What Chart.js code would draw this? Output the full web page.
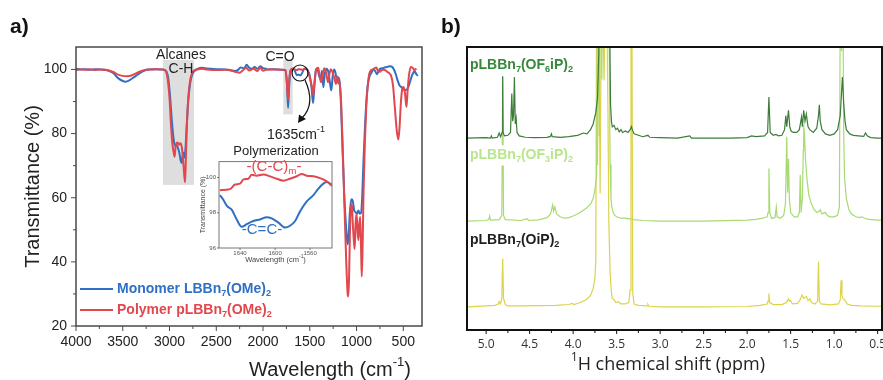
<!DOCTYPE html>
<html>
<head>
<meta charset="UTF-8">
<script src="https://cdn.jsdelivr.net/npm/chart.js"></script>
<style>
  body { margin: 0; background: #fff; width: 883px; height: 380px; position: relative; overflow: hidden; }
  canvas { position: absolute; }
  #ftir { left: 0; top: 0; }
  #inset { left: 195px; top: 155px; }
  #nmr { left: 440px; top: 0; }
</style>
</head>
<body>
<canvas id="ftir" width="440" height="380"></canvas>
<canvas id="nmr" width="460" height="380"></canvas>
<canvas id="inset" width="142" height="112"></canvas>
<script>
// ---------- panel a: FTIR ----------
const wnTicks = [4000, 3500, 3000, 2500, 2000, 1500, 1000, 500];
const wnMinorTicks = [3750, 3250, 2750, 2250, 1750, 1250, 750];
const transTicks = [20, 40, 60, 80, 100];
const transMinorTicks = [30, 50, 70, 90];
// [from cm-1, to cm-1, T low, T high]
const shadedBands = [[3070, 2738, 64, 103], [1783, 1683, 86, 103]];

const monomerIR = [[4000,100.2],[3950,100.0],[3900,100.1],[3850,99.9],[3800,100.1],[3750,100.0],[3700,99.9],[3650,99.6],[3600,98.8],[3550,97.3],[3500,96.4],[3470,96.2],[3430,96.6],[3380,97.6],[3330,98.6],[3280,99.5],[3230,100.0],[3150,100.1],[3080,100.0],[3040,99.6],[3015,97.5],[2995,92],[2975,84],[2955,78],[2940,76.2],[2925,76.5],[2910,75.5],[2895,74],[2880,71.5],[2870,70.8],[2860,73],[2850,74],[2840,72.5],[2830,75],[2815,83],[2800,90],[2780,95.5],[2760,98.2],[2730,99.6],[2700,100.2],[2650,100.5],[2600,100.3],[2500,100.1],[2400,100.0],[2350,99.8],[2300,99.5],[2270,99.8],[2240,100.6],[2200,100.4],[2175,101.5],[2150,100.6],[2120,100.2],[2090,100.8],[2060,100.2],[2030,101.0],[2000,100.4],[1970,100.2],[1950,100.0],[1900,100.1],[1850,100.0],[1800,99.9],[1760,99.8],[1745,96],[1732,88],[1722,94],[1708,99.5],[1680,100.2],[1660,99.6],[1640,98.2],[1620,98.4],[1600,98.1],[1580,99],[1560,100.2],[1540,100.3],[1520,99.6],[1500,98],[1480,94],[1465,89.5],[1450,95],[1435,99.8],[1420,100.3],[1400,98],[1385,97],[1370,99.5],[1355,94.5],[1340,98.5],[1320,100.2],[1300,99],[1285,96],[1270,93.5],[1255,98],[1240,100],[1225,99],[1210,96.5],[1195,97.5],[1180,96],[1165,88],[1150,75],[1130,60],[1110,50],[1095,45.5],[1085,48],[1070,56],[1055,59.5],[1040,59],[1025,56],[1010,55.5],[995,55],[980,56],[965,55],[950,55.5],[940,60],[925,72],[910,82],[895,90],[880,95],[860,98],[840,99],[820,100],[800,99.5],[780,98.5],[760,99.8],[740,100.3],[720,100.4],[700,100.6],[680,100.7],[660,100.9],[640,101.0],[620,100.8],[600,100],[580,98.5],[560,96.5],[540,95],[520,94.5],[500,93.8],[480,93.6],[460,93.8],[440,95],[420,97],[400,98.6],[380,99.4],[360,98.5],[345,98]];

const polymerIR = [[4000,99.8],[3950,100.0],[3900,99.9],[3850,100.1],[3800,99.8],[3750,100.0],[3700,99.9],[3650,99.7],[3600,99.2],[3550,98.4],[3500,98.0],[3450,97.9],[3400,98.2],[3350,98.9],[3300,99.5],[3250,99.9],[3150,100.1],[3080,100.0],[3060,99.9],[3040,99.5],[3020,97],[3000,91],[2985,83],[2970,77],[2955,74],[2945,72.8],[2935,76],[2925,77],[2913,77.2],[2900,76.5],[2885,77],[2870,76],[2855,72],[2845,68],[2834,64.8],[2825,72],[2815,82],[2800,91],[2780,96.5],[2760,98.8],[2730,99.8],[2700,100],[2650,100.2],[2600,100],[2500,99.8],[2400,99.9],[2300,99.3],[2250,99],[2220,99.6],[2180,100.5],[2150,99.7],[2100,100.2],[2060,99.5],[2030,100.6],[2000,99.6],[1960,100],[1900,100],[1800,99.9],[1760,99.7],[1745,96],[1732,90.5],[1722,96],[1705,99.8],[1680,100.3],[1660,100],[1640,99.8],[1620,100.1],[1600,100],[1580,99.9],[1560,100.1],[1540,100.2],[1520,99.5],[1500,97.5],[1480,95],[1462,92],[1450,96],[1430,100],[1410,100.5],[1395,98],[1380,96],[1365,98],[1345,100.4],[1325,99],[1305,96],[1290,98.5],[1275,100.1],[1255,99],[1235,97],[1220,95.5],[1205,97.8],[1194,95.6],[1180,96],[1165,90],[1150,78],[1130,58],[1110,40],[1095,30],[1088,29.2],[1080,35],[1070,50],[1060,58],[1050,57.5],[1040,52],[1030,47],[1020,44],[1010,52],[1000,55],[990,50],[980,46.8],[970,52],[960,54],[950,42],[944,35.4],[935,45],[925,62],[910,78],[895,89],[880,95],[865,98.5],[850,99.6],[830,100],[810,100.3],[790,100.6],[770,99.5],[750,99.3],[730,99.8],[710,99.9],[690,99.7],[670,99.2],[650,98.8],[630,98],[610,95],[590,88],[570,81],[553,78.1],[540,82],[525,90],[510,94],[495,94.5],[480,92],[466,88.3],[455,93],[440,98],[420,100.8],[400,100.5],[380,99.8],[360,100.3]];

// inset (1635 cm-1 region)
const insetXTicks = [1640, 1600, 1560];
const insetYTicks = [96, 98, 100];
const insetMonomer = [[1663,99.0],[1659,98.73],[1654.5,98.36],[1649.5,98.18],[1643.8,97.62],[1638.1,97.2],[1632.4,97.35],[1624.8,97.53],[1617.1,97.62],[1609.5,97.75],[1603.8,97.68],[1596.2,97.44],[1588.6,97.16],[1582.9,97.26],[1577.1,97.53],[1571.4,98.08],[1563.8,98.64],[1556.2,99.0],[1550.5,99.37],[1544.8,99.65],[1541,99.74],[1535.2,99.6]];
const insetPolymer = [[1663,99.28],[1651.4,99.34],[1645.7,99.6],[1640,99.65],[1636,99.89],[1630.5,99.93],[1626.7,100.15],[1621,100.1],[1613.3,100.17],[1605.7,100.06],[1598,99.93],[1590.5,99.82],[1582.9,99.93],[1575.2,100.07],[1569.5,100.2],[1563.8,100.1],[1556,100.07],[1548.6,99.96],[1541,99.78],[1535.2,99.52]];

// ---------- panel b: 1H NMR ----------
const ppmTicks = [5.0, 4.5, 4.0, 3.5, 3.0, 2.5, 2.0, 1.5, 1.0, 0.5];
const ppmMinorTicks = [4.75, 4.25, 3.75, 3.25, 2.75, 2.25, 1.75, 1.25, 0.75];
const nmrNames = ['pLBBn_{7}(OF_{6}iP)_{2}', 'pLBBn_{7}(OF_{3}iP)_{2}', 'pLBBn_{7}(OiP)_{2}'];
const stackOffsets = [67.8, 38.5, 8.2];

const nmrOF6 = [[5.22,0],[5.0,0.2],[4.95,0],[4.94,0.8],[4.93,0],[4.87,0.3],[4.85,1.8],[4.835,0.5],[4.815,2],[4.81,21.9],[4.805,2],[4.79,0.8],[4.75,1],[4.72,2],[4.705,15.8],[4.695,6],[4.685,8],[4.675,21.6],[4.665,5],[4.655,7],[4.645,2],[4.62,0.8],[4.55,0.3],[4.45,0.2],[4.30,0.3],[4.26,0.6],[4.25,1.5],[4.24,0.5],[4.15,0.3],[4.05,0.5],[3.95,1],[3.88,1.8],[3.84,1.5],[3.80,3],[3.77,5],[3.74,9],[3.72,14],[3.705,30],[3.69,110],[3.68,60],[3.665,110],[3.655,80],[3.64,110],[3.62,110],[3.605,90],[3.595,110],[3.58,40],[3.57,12],[3.56,6],[3.55,4],[3.53,4.5],[3.51,3],[3.49,3.5],[3.47,2.2],[3.45,3],[3.43,2],[3.40,2.5],[3.37,2],[3.345,3],[3.33,4.1],[3.32,3],[3.30,1.5],[3.25,1],[3.20,0.5],[3.14,1],[3.12,0.3],[3.0,0.2],[2.80,0],[2.66,0.8],[2.64,0],[2.4,0],[2.2,0],[2.0,0.2],[1.95,0.8],[1.9,0.5],[1.80,0.8],[1.765,2],[1.75,14.5],[1.735,2],[1.70,1],[1.67,1.3],[1.64,0.8],[1.60,1],[1.57,3],[1.555,8],[1.545,4],[1.525,9.8],[1.51,4],[1.495,2.5],[1.47,2],[1.43,2],[1.40,3],[1.375,7.4],[1.365,4],[1.35,9.8],[1.335,6],[1.32,8.5],[1.30,4],[1.28,3],[1.24,2],[1.20,3.5],[1.18,8],[1.17,11.8],[1.16,6],[1.14,3],[1.10,1.5],[1.05,1],[1.0,1.5],[0.96,3],[0.93,8],[0.905,21.6],[0.89,12],[0.875,6],[0.86,3],[0.82,1.5],[0.78,1],[0.72,0.8],[0.66,0.6],[0.64,1.8],[0.62,0.8],[0.58,0.2],[0.5,0],[0.45,0]];

const nmrOF3 = [[5.22,0],[5.0,0.2],[4.97,0.5],[4.96,1.8],[4.95,0.3],[4.85,0.5],[4.82,2],[4.81,51],[4.80,2],[4.78,0.5],[4.6,0.2],[4.53,0.8],[4.51,0.2],[4.40,0.4],[4.30,1.2],[4.26,2.5],[4.235,5.7],[4.225,3.5],[4.21,5],[4.19,2.5],[4.15,1.5],[4.10,1],[4.05,1.2],[4.00,1.8],[3.95,2.5],[3.90,3.5],[3.85,4.5],[3.80,6],[3.77,8],[3.75,11],[3.73,16],[3.715,110],[3.70,30],[3.685,110],[3.67,50],[3.655,110],[3.64,110],[3.625,110],[3.61,110],[3.595,110],[3.585,60],[3.575,20],[3.565,8],[3.555,5],[3.54,3],[3.52,2],[3.50,1.5],[3.45,1],[3.40,1],[3.35,0.8],[3.30,0.5],[3.2,0.2],[3.0,0],[2.5,0],[2.0,0.3],[1.9,0.6],[1.82,1],[1.77,1.5],[1.76,3],[1.75,18.6],[1.74,3],[1.72,1],[1.68,1.2],[1.665,5],[1.655,1.5],[1.62,1],[1.58,2],[1.56,6],[1.545,29.8],[1.535,10],[1.525,22],[1.515,8],[1.50,3],[1.46,1.5],[1.42,1.5],[1.40,3],[1.39,16.3],[1.38,3],[1.365,8],[1.355,25],[1.35,34],[1.34,30],[1.33,22],[1.31,14],[1.29,9],[1.26,6],[1.23,4],[1.20,3],[1.17,3.5],[1.16,4],[1.14,2.5],[1.12,2.8],[1.10,3],[1.08,2],[1.05,1.5],[1.00,1.5],[0.96,2],[0.94,5],[0.925,110],[0.915,60],[0.905,110],[0.89,30],[0.88,15],[0.86,8],[0.83,4],[0.80,2.5],[0.75,1.5],[0.70,1.2],[0.68,1.5],[0.65,1],[0.6,0.6],[0.5,0.3],[0.45,0.3]];

const nmrOiP = [[5.22,0],[5.0,0.3],[4.90,0.5],[4.86,1],[4.85,1.8],[4.835,1],[4.82,3],[4.81,17.1],[4.80,3],[4.78,0.8],[4.75,0.3],[4.6,0.3],[4.4,0.4],[4.2,0.5],[4.05,0.8],[4.01,1.2],[3.99,0.8],[3.92,1.5],[3.85,2.5],[3.80,4],[3.77,6.5],[3.75,10],[3.74,16],[3.73,110],[3.72,50],[3.705,110],[3.69,40],[3.675,110],[3.66,110],[3.645,80],[3.63,110],[3.615,110],[3.60,70],[3.59,30],[3.575,12],[3.56,5],[3.55,3],[3.53,2.5],[3.51,1.5],[3.48,1.8],[3.45,1],[3.40,1],[3.36,1.5],[3.345,6],[3.335,110],[3.325,110],[3.315,5],[3.30,1],[3.25,0.5],[3.15,0.3],[3.14,0.8],[3.13,0.2],[3.0,0],[2.5,0],[2.0,0.1],[1.85,0.5],[1.77,1],[1.76,2],[1.75,4.7],[1.74,1.5],[1.70,0.8],[1.60,0.8],[1.55,1.5],[1.525,2.8],[1.515,2],[1.50,2.2],[1.48,1],[1.42,1.2],[1.39,2.5],[1.37,4.2],[1.35,3],[1.32,3.6],[1.30,2.2],[1.28,2.8],[1.26,1.5],[1.22,1],[1.19,2],[1.18,15.9],[1.17,2],[1.15,1],[1.05,0.7],[0.95,1],[0.93,2.5],[0.92,9.4],[0.91,4],[0.90,3],[0.89,2.8],[0.87,2],[0.85,1],[0.80,0.5],[0.70,0.3],[0.5,0.2],[0.45,0.2]];

// ---------- styling ----------
const FONT_A = "'Liberation Sans', Arial, sans-serif";
const FONT_B = "'Open Sans', 'Noto Sans', sans-serif";
const BLUE = '#3070c2', RED = '#e2474d';
const nmrColors = ['#3d7c3a', '#a7da72', '#dcd34a'];
const nmrLabelColors = ['#34893a', '#b8e68c', '#1e1e1e'];

Chart.defaults.font.family = FONT_A;
Chart.defaults.color = '#222';

// text with _{sub} and ^{sup}
function richParts(text) {
  const parts = [];
  const re = /([_^])\{([^}]*)\}|[^_^]+/g;
  let m;
  while ((m = re.exec(text))) parts.push(m[1] ? { t: m[2], k: m[1] } : { t: m[0], k: '' });
  return parts;
}
function drawRich(ctx, text, x, y, o) {
  const size = o.size, weight = o.weight || 'normal', family = o.family || FONT_A;
  const parts = richParts(text);
  let w = 0;
  parts.forEach(p => {
    p.s = p.k ? size * 0.65 : size;
    ctx.font = `${weight} ${p.s}px ${family}`;
    p.w = ctx.measureText(p.t).width;
    w += p.w;
  });
  let cx = o.align === 'center' ? x - w / 2 : (o.align === 'right' ? x - w : x);
  ctx.save();
  if (o.bg) {
    ctx.fillStyle = o.bg;
    ctx.fillRect(cx - 2, y - size * 0.7, w + 4, size * 1.45);
  }
  ctx.fillStyle = o.color || '#222';
  ctx.textBaseline = 'middle';
  ctx.textAlign = 'left';
  parts.forEach(p => {
    ctx.font = `${weight} ${p.s}px ${family}`;
    const dy = p.k === '_' ? size * 0.3 : (p.k === '^' ? -size * 0.38 : 0);
    ctx.fillText(p.t, cx, y + dy);
    cx += p.w;
  });
  ctx.restore();
  return w;
}
function tickMarks(ctx, scale, values, len, area, horizontal) {
  ctx.beginPath();
  values.forEach(v => {
    const p = scale.getPixelForValue(v);
    if (horizontal) { ctx.moveTo(p, area.bottom); ctx.lineTo(p, area.bottom + len); }
    else { ctx.moveTo(area.left - len, p); ctx.lineTo(area.left, p); }
  });
  ctx.stroke();
}
const pts = arr => arr.map(([x, y]) => ({ x, y }));
const fixedTicks = list => s => { s.ticks = list.map(v => ({ value: v })); };
const common = { responsive: false, animation: false, devicePixelRatio: 1, events: [],
  plugins: { legend: { display: false }, tooltip: { enabled: false } } };

// ---------- FTIR chart ----------
new Chart(document.getElementById('ftir'), {
  type: 'line',
  data: { datasets: [
    { data: pts(polymerIR), borderColor: RED, borderWidth: 2, pointRadius: 0, cubicInterpolationMode: 'monotone' },
    { data: pts(monomerIR), borderColor: BLUE, borderWidth: 2, pointRadius: 0, cubicInterpolationMode: 'monotone' }
  ] },
  options: { ...common,
    layout: { padding: { top: 47, right: 18, left: 0, bottom: 0 } },
    scales: {
      x: { type: 'linear', min: 300, max: 4000, reverse: true, afterBuildTicks: fixedTicks(wnTicks),
           afterFit: s => { s.height = 54; },
           grid: { display: false, drawTicks: false }, border: { display: false },
           ticks: { font: { size: 14 }, padding: 8, autoSkip: false, maxRotation: 0, callback: v => String(v) } },
      y: { min: 20, max: 107, afterBuildTicks: fixedTicks(transTicks), afterFit: s => { s.width = 76; },
           grid: { display: false, drawTicks: false }, border: { display: false },
           ticks: { font: { size: 14 }, padding: 9, callback: v => String(v) } }
    }
  },
  plugins: [{
    id: 'ftirDecor',
    beforeDatasetsDraw(chart) {
      const { ctx, scales: { x, y } } = chart;
      ctx.save();
      ctx.fillStyle = '#dedede';
      shadedBands.forEach(([a, b, lo, hi]) => {
        const x0 = x.getPixelForValue(a), x1 = x.getPixelForValue(b);
        const y0 = y.getPixelForValue(hi), y1 = y.getPixelForValue(lo);
        ctx.fillRect(x0, y0, x1 - x0, y1 - y0);
      });
      ctx.restore();
    },
    afterDraw(chart) {
      const { ctx, chartArea: a, scales: { x, y } } = chart;
      ctx.save();
      ctx.strokeStyle = '#4a4a4a';
      ctx.lineWidth = 1.5;
      ctx.strokeRect(a.left, a.top, a.right - a.left, a.bottom - a.top);
      ctx.lineWidth = 1;
      tickMarks(ctx, x, wnTicks, 5, a, true);
      tickMarks(ctx, x, wnMinorTicks, 3, a, true);
      tickMarks(ctx, y, transTicks, 5, a, false);
      tickMarks(ctx, y, transMinorTicks, 3, a, false);

      drawRich(ctx, 'a)', 10, 27, { size: 21, weight: 'bold', color: '#111' });
      drawRich(ctx, 'Wavelength (cm^{-1})', (a.left + a.right) / 2, 370, { size: 20, color: '#222' });
      ctx.save();
      ctx.translate(33, (a.top + a.bottom) / 2);
      ctx.rotate(-Math.PI / 2);
      drawRich(ctx, 'Transmittance (%)', 0, 0, { size: 20, align: 'center', color: '#222' });
      ctx.restore();

      // band annotations
      drawRich(ctx, 'Alcanes', 181, 55, { size: 14, align: 'center' });
      drawRich(ctx, 'C-H', 181, 69, { size: 14, align: 'center' });
      drawRich(ctx, 'C=O', 280, 57, { size: 14, align: 'center' });
      ctx.strokeStyle = '#111';
      ctx.lineWidth = 1.2;
      ctx.beginPath();
      ctx.arc(300, 73, 8, 0, Math.PI * 2);
      ctx.stroke();
      ctx.beginPath();
      ctx.moveTo(305, 80);
      ctx.quadraticCurveTo(316, 104, 302, 118);
      ctx.stroke();
      ctx.fillStyle = '#111';
      ctx.beginPath();
      ctx.moveTo(298, 123);
      ctx.lineTo(299, 114.5);
      ctx.lineTo(306, 119);
      ctx.closePath();
      ctx.fill();
      drawRich(ctx, '1635cm^{-1}', 296, 135, { size: 14, align: 'center' });
      drawRich(ctx, 'Polymerization', 276, 151, { size: 13, align: 'center' });

      // legend
      [[BLUE, 'Monomer LBBn_{7}(OMe)_{2}', 289], [RED, 'Polymer pLBBn_{7}(OMe)_{2}', 310]].forEach(([c, t, yy]) => {
        ctx.strokeStyle = c;
        ctx.lineWidth = 2;
        ctx.beginPath(); ctx.moveTo(80, yy); ctx.lineTo(113, yy); ctx.stroke();
        drawRich(ctx, t, 117, yy, { size: 14, weight: 'bold', color: c });
      });
      ctx.restore();
    }
  }]
});

// ---------- inset ----------
new Chart(document.getElementById('inset'), {
  type: 'line',
  data: { datasets: [
    { data: pts(insetPolymer), borderColor: RED, borderWidth: 2, pointRadius: 0, cubicInterpolationMode: 'monotone' },
    { data: pts(insetMonomer), borderColor: BLUE, borderWidth: 2, pointRadius: 0, cubicInterpolationMode: 'monotone' }
  ] },
  options: { ...common,
    layout: { padding: { top: 4, right: 5, left: 0, bottom: 0 } },
    scales: {
      x: { type: 'linear', min: 1535, max: 1664, reverse: true, afterBuildTicks: fixedTicks(insetXTicks),
           afterFit: s => { s.height = 19; },
           grid: { display: false, drawTicks: false }, border: { display: false },
           ticks: { font: { size: 6 }, color: '#555', padding: 2, autoSkip: false, maxRotation: 0, callback: v => String(v) } },
      y: { min: 96, max: 100.9, afterBuildTicks: fixedTicks(insetYTicks), afterFit: s => { s.width = 24; },
           grid: { display: false, drawTicks: false }, border: { display: false },
           ticks: { font: { size: 6 }, color: '#555', padding: 3, callback: v => String(v) } }
    }
  },
  plugins: [{
    id: 'insetDecor',
    beforeDatasetsDraw(chart) {
      const { ctx, chartArea: a } = chart;
      ctx.save();
      ctx.fillStyle = '#fff';
      ctx.fillRect(a.left, a.top, a.right - a.left, a.bottom - a.top);
      ctx.restore();
    },
    afterDraw(chart) {
      const { ctx, chartArea: a, scales: { x, y } } = chart;
      ctx.save();
      ctx.strokeStyle = '#777';
      ctx.lineWidth = 1;
      ctx.strokeRect(a.left, a.top, a.right - a.left, a.bottom - a.top);
      tickMarks(ctx, x, insetXTicks, 2, a, true);
      tickMarks(ctx, y, insetYTicks, 2, a, false);
      drawRich(ctx, 'Wavelength (cm^{-1})', (a.left + a.right) / 2, 105, { size: 7.5, align: 'center', color: '#444' });
      ctx.save();
      ctx.translate(8, (a.top + a.bottom) / 2);
      ctx.rotate(-Math.PI / 2);
      drawRich(ctx, 'Transmittance (%)', 0, 0, { size: 7, align: 'center', color: '#444' });
      ctx.restore();
      drawRich(ctx, '-(C-C)_{m}-', 79, 12, { size: 15, align: 'center', color: RED });
      drawRich(ctx, '-C=C-', 67, 75, { size: 15, align: 'center', color: BLUE });
      ctx.restore();
    }
  }]
});

// ---------- NMR chart ----------
const nmrSets = [nmrOF6, nmrOF3, nmrOiP];
new Chart(document.getElementById('nmr'), {
  type: 'line',
  data: { datasets: nmrSets.map((s, i) => ({
    data: s.map(([x, v]) => ({ x, y: v + stackOffsets[i] })),
    borderColor: nmrColors[i], borderWidth: 1.2, pointRadius: 0, tension: 0
  })) },
  options: { ...common,
    layout: { padding: { top: 47, right: 18, left: 27, bottom: 0 } },
    scales: {
      x: { type: 'linear', min: 0.45, max: 5.22, reverse: true, afterBuildTicks: fixedTicks(ppmTicks),
           afterFit: s => { s.height = 50; },
           grid: { display: false, drawTicks: false }, border: { display: false },
           ticks: { font: { size: 12, family: FONT_B }, color: '#333', padding: 7, autoSkip: false, maxRotation: 0,
                    callback: v => v.toFixed(1) } },
      y: { display: false, min: 0, max: 100 }
    }
  },
  plugins: [{
    id: 'nmrDecor',
    afterDraw(chart) {
      const { ctx, chartArea: a, scales: { x } } = chart;
      ctx.save();
      ctx.strokeStyle = '#111';
      ctx.lineWidth = 2;
      ctx.strokeRect(a.left, a.top, a.right - a.left, a.bottom - a.top);
      ctx.lineWidth = 1;
      tickMarks(ctx, x, ppmTicks, 4, a, true);
      tickMarks(ctx, x, ppmMinorTicks, 3, a, true);
      drawRich(ctx, 'b)', 1, 27, { size: 21, weight: 'bold', color: '#111' });
      drawRich(ctx, '^{1}H chemical shift (ppm)', 228, 365, { size: 18, align: 'center', family: FONT_B, color: '#222' });
      const labelY = [65, 155, 240];
      nmrNames.forEach((n, i) => {
        drawRich(ctx, n, a.left + 3, labelY[i], { size: 14, weight: 'bold', color: nmrLabelColors[i], bg: '#fff' });
      });
      ctx.restore();
    }
  }]
});
</script>
</body>
</html>
